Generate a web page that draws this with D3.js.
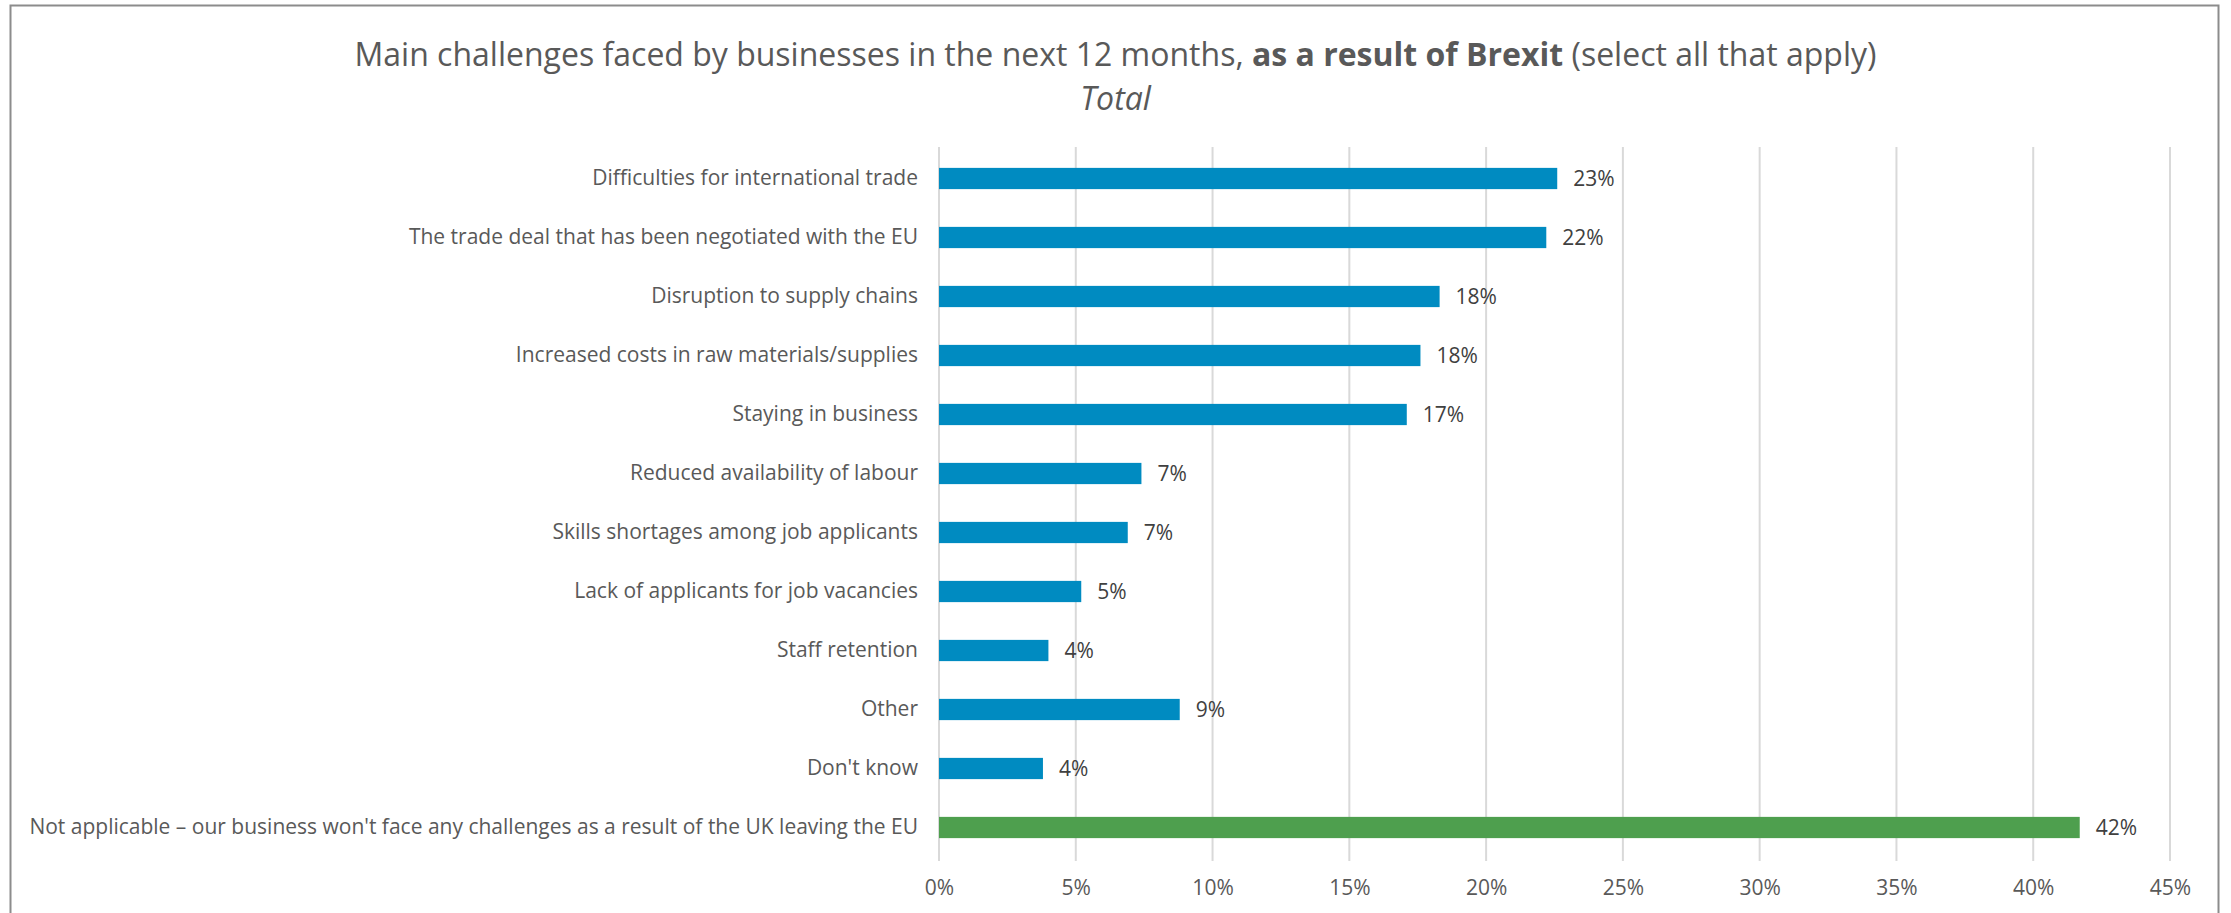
<!DOCTYPE html>
<html>
<head>
<meta charset="utf-8">
<script src="https://cdn.jsdelivr.net/npm/d3@7/dist/d3.min.js"></script>
<style>
  html, body { margin: 0; padding: 0; background: #fff; }
  svg { display: block; font-family: "Open Sans", "Noto Sans", sans-serif; }
</style>
</head>
<body>
<svg id="chart" width="2231" height="913"></svg>
<script>
// Survey answers: share of businesses naming each Brexit-related challenge
const categories = [
  "Difficulties for international trade",
  "The trade deal that has been negotiated with the EU",
  "Disruption to supply chains",
  "Increased costs in raw materials/supplies",
  "Staying in business",
  "Reduced availability of labour",
  "Skills shortages among job applicants",
  "Lack of applicants for job vacancies",
  "Staff retention",
  "Other",
  "Don't know",
  "Not applicable \u2013 our business won't face any challenges as a result of the UK leaving the EU"
];
const values = [22.6, 22.2, 18.3, 17.6, 17.1, 7.4, 6.9, 5.2, 4.0, 8.8, 3.8, 41.7];
const valueLabels = ["23%", "22%", "18%", "18%", "17%", "7%", "7%", "5%", "4%", "9%", "4%", "42%"];
const tickValues = [0, 5, 10, 15, 20, 25, 30, 35, 40, 45];
const tickLabels = ["0%", "5%", "10%", "15%", "20%", "25%", "30%", "35%", "40%", "45%"];

const svg = d3.select("#chart");
const W = 2231, H = 913;
const plot = { left: 939, right: 2170, top: 149, bottom: 857 };
const labelSize = 21;

// Outer chart frame
svg.append("rect")
  .attr("x", 10.5).attr("y", 5.5)
  .attr("width", 2208).attr("height", H)
  .attr("fill", "#fff")
  .attr("stroke", "#8c8c8c").attr("stroke-width", 2);

// Title
const title = svg.append("text")
  .attr("x", W / 2).attr("y", 66)
  .attr("text-anchor", "middle")
  .attr("font-size", 32)
  .attr("fill", "#595959");
title.append("tspan").text("Main challenges faced by businesses in the next 12 months, ");
title.append("tspan").attr("font-weight", "bold").text("as a result of Brexit");
title.append("tspan").text(" (select all that apply)");

svg.append("text")
  .attr("x", W / 2).attr("y", 110)
  .attr("text-anchor", "middle")
  .attr("font-size", 32)
  .attr("font-style", "italic")
  .attr("fill", "#595959")
  .text("Total");

const x = d3.scaleLinear().domain([0, 45]).range([plot.left, plot.right]);
const y = d3.scaleBand().domain(categories).range([plot.top, plot.bottom])
  .paddingInner(0.64).paddingOuter(0.32);

// Vertical gridlines
svg.append("g")
  .selectAll("line")
  .data(tickValues)
  .join("line")
  .attr("x1", d => x(d)).attr("x2", d => x(d))
  .attr("y1", plot.top - 2).attr("y2", plot.bottom + 4)
  .attr("stroke", "#d9d9d9").attr("stroke-width", 2);

// X axis tick labels
const xAxis = d3.axisBottom(x)
  .tickValues(tickValues)
  .tickFormat((d, i) => tickLabels[i])
  .tickSize(0).tickPadding(0);
const gx = svg.append("g")
  .attr("transform", `translate(0,${plot.bottom + 23})`)
  .call(xAxis);
gx.select(".domain").remove();
gx.selectAll("text")
  .attr("font-family", "'Open Sans', sans-serif")
  .attr("font-size", labelSize)
  .attr("fill", "#595959");

// Category axis labels
const yAxis = d3.axisLeft(y).tickSize(0).tickPadding(21);
const gy = svg.append("g")
  .attr("transform", `translate(${plot.left},0)`)
  .call(yAxis);
gy.select(".domain").remove();
gy.selectAll("text")
  .attr("font-family", "'Open Sans', sans-serif")
  .attr("font-size", labelSize)
  .attr("fill", "#595959");

// Bars
const lastIndex = categories.length - 1;
svg.append("g")
  .selectAll("rect")
  .data(values)
  .join("rect")
  .attr("x", x(0))
  .attr("y", (d, i) => y(categories[i]))
  .attr("width", d => x(d) - x(0))
  .attr("height", y.bandwidth())
  .attr("fill", (d, i) => i === lastIndex ? "#4e9f4e" : "#008bc1");

// Value labels
svg.append("g")
  .selectAll("text")
  .data(values)
  .join("text")
  .attr("x", d => x(d) + 16)
  .attr("y", (d, i) => y(categories[i]) + y.bandwidth() / 2)
  .attr("dy", "0.35em")
  .attr("font-size", labelSize)
  .attr("fill", "#404040")
  .text((d, i) => valueLabels[i]);
</script>
</body>
</html>
